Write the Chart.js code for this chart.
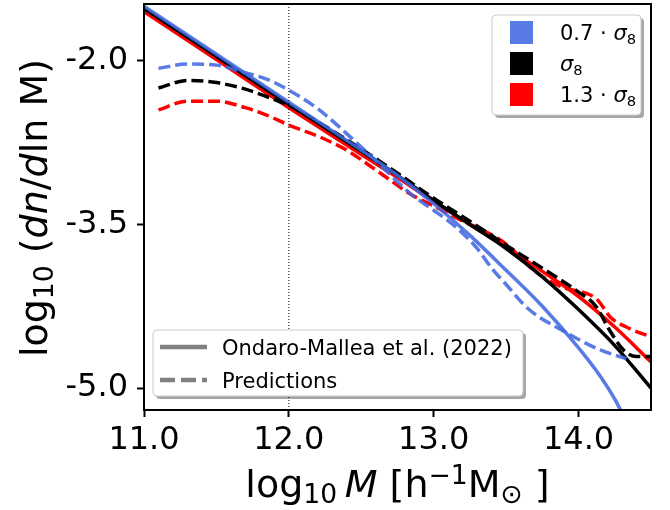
<!DOCTYPE html>
<html>
<head>
<meta charset="utf-8">
<script src="https://cdn.jsdelivr.net/npm/chart.js@4.4.1/dist/chart.umd.min.js"></script>
<style>
  html, body { margin: 0; padding: 0; background: #fff; }
  canvas { display: block; }
</style>
</head>
<body>
<canvas id="hmf" width="670" height="510"></canvas>
<script>
// log10 M [h^-1 Msun] and log10(dn/dlnM)

// Ondaro-Mallea et al. (2022) - solid
const massSolid = [11.0, 11.5, 12.0, 12.5, 12.75, 13.0, 13.25, 13.5, 13.75, 14.0, 14.25, 14.5];
const solidBlack = [-1.52, -1.96, -2.40, -2.83, -3.05, -3.28, -3.50, -3.72, -3.98, -4.28, -4.61, -5.00];
const solidRed = [-1.55, -1.99, -2.43, -2.86, -3.07, -3.29, -3.50, -3.71, -3.93, -4.16, -4.44, -4.76];
const massSolidBlue = [11.0, 11.5, 12.0, 12.5, 12.75, 13.0, 13.25, 13.5, 13.75, 14.0, 14.15, 14.25, 14.35];
const solidBlue = [-1.50, -1.94, -2.38, -2.82, -3.05, -3.31, -3.60, -3.92, -4.25, -4.63, -4.89, -5.10, -5.36];

// Predictions - dashed
const massPredBlue = [11.1, 11.3, 11.5, 11.7, 11.85, 12.0, 12.2, 12.45, 12.65, 12.85, 13.0, 13.15, 13.3, 13.4, 13.5, 13.65, 13.9, 14.15, 14.33];
const predBlue = [-2.07, -2.03, -2.04, -2.11, -2.17, -2.27, -2.44, -2.73, -2.98, -3.23, -3.37, -3.52, -3.72, -3.90, -4.05, -4.27, -4.48, -4.65, -4.73];
const massPredBlack = [11.1, 11.3, 11.5, 11.7, 11.85, 12.0, 12.25, 12.5, 12.75, 13.0, 13.25, 13.5, 13.75, 14.0, 14.12, 14.21, 14.31, 14.4, 14.5];
const predBlack = [-2.25, -2.18, -2.20, -2.26, -2.33, -2.41, -2.60, -2.81, -3.03, -3.26, -3.47, -3.69, -3.90, -4.12, -4.25, -4.46, -4.65, -4.71, -4.71];
const massPredRed = [11.1, 11.3, 11.5, 11.7, 11.85, 12.0, 12.2, 12.4, 12.6, 12.85, 13.0, 13.2, 13.35, 13.5, 13.7, 13.9, 14.05, 14.13, 14.22, 14.33, 14.5];
const predRed = [-2.45, -2.37, -2.37, -2.43, -2.50, -2.59, -2.69, -2.82, -3.00, -3.23, -3.33, -3.47, -3.56, -3.68, -3.93, -4.08, -4.13, -4.19, -4.35, -4.44, -4.53];

// axes
const xTicks = [11, 12, 13, 14];
const yTicks = [-5.0, -3.5, -2.0];
const xRange = [11, 14.5];
const yRange = [-5.2, -1.48];
const massCut = 12.0;

// legends
const sigmaFactors = ['0.7', '', '1.3'];
const lineLabels = ['Ondaro-Mallea et al. (2022)', 'Predictions'];

const BLUE = 'rgba(65,105,225,0.88)';
const RED = '#ff0000';
const BLACK = '#000000';
const FONT = '"DejaVu Sans", sans-serif';
const DASH = [12, 5];

const pts = (xs, ys) => xs.map((x, i) => ({ x: x, y: ys[i] }));

function curve(data, color, dashed) {
    return {
        data: data,
        borderColor: color,
        borderWidth: 3.5,
        borderDash: dashed ? DASH : [],
        pointRadius: 0,
        showLine: true,
        fill: false,
        cubicInterpolationMode: 'monotone'
    };
}

// text with sub / superscripts drawn piece by piece
function setFont(ctx, p, size) {
    const s = p.pos ? size * 0.7 : size;
    ctx.font = (p.it ? 'italic ' : '') + s + 'px ' + FONT;
}
function drawMath(ctx, parts, x, y, size, align) {
    let w = 0;
    parts.forEach(p => { setFont(ctx, p, size); w += ctx.measureText(p.t).width; });
    let cx = align === 'center' ? x - w / 2 : x;
    ctx.textAlign = 'left';
    ctx.textBaseline = 'alphabetic';
    ctx.fillStyle = '#000';
    parts.forEach(p => {
        setFont(ctx, p, size);
        const dy = p.pos === -1 ? size * 0.17 : (p.pos === 1 ? -size * 0.33 : 0);
        ctx.fillText(p.t, cx, y + dy);
        cx += ctx.measureText(p.t).width;
    });
}

function roundRect(ctx, x, y, w, h, r) {
    ctx.beginPath();
    ctx.moveTo(x + r, y);
    ctx.lineTo(x + w - r, y);
    ctx.quadraticCurveTo(x + w, y, x + w, y + r);
    ctx.lineTo(x + w, y + h - r);
    ctx.quadraticCurveTo(x + w, y + h, x + w - r, y + h);
    ctx.lineTo(x + r, y + h);
    ctx.quadraticCurveTo(x, y + h, x, y + h - r);
    ctx.lineTo(x, y + r);
    ctx.quadraticCurveTo(x, y, x + r, y);
    ctx.closePath();
}
function legendBox(ctx, x, y, w, h) {
    ctx.fillStyle = 'rgba(0,0,0,0.35)';
    roundRect(ctx, x + 3, y + 3, w, h, 4);
    ctx.fill();
    ctx.fillStyle = '#ffffff';
    roundRect(ctx, x, y, w, h, 4);
    ctx.fill();
    ctx.strokeStyle = '#cccccc';
    ctx.lineWidth = 1;
    ctx.stroke();
}

const decorations = {
    id: 'decorations',
    afterDraw(chart) {
        const ctx = chart.ctx;
        const a = chart.chartArea;
        ctx.save();

        // full frame
        ctx.strokeStyle = '#000';
        ctx.lineWidth = 2;
        ctx.strokeRect(a.left, a.top, a.right - a.left, a.bottom - a.top);

        // axis titles
        drawMath(ctx, [
            { t: 'log' }, { t: '10', pos: -1 }, { t: '\u2009' }, { t: 'M', it: true },
            { t: ' [h' }, { t: '\u22121', pos: 1 }, { t: 'M' }, { t: '\u2299', pos: -1 }, { t: ' ]' }
        ], (a.left + a.right) / 2, 497, 38, 'center');

        ctx.save();
        ctx.translate(47, 208);
        ctx.rotate(-Math.PI / 2);
        drawMath(ctx, [
            { t: 'log' }, { t: '10', pos: -1 }, { t: ' (' }, { t: 'dn', it: true }, { t: '/' },
            { t: 'd', it: true }, { t: 'ln M)' }
        ], 0, 0, 38, 'center');
        ctx.restore();

        // sigma_8 legend
        const colors = [BLUE, BLACK, RED];
        legendBox(ctx, 492, 15, 149, 100);
        sigmaFactors.forEach((f, i) => {
            const cy = 32 + i * 31;
            ctx.fillStyle = colors[i];
            ctx.fillRect(510, cy - 11, 23, 23);
            const parts = [];
            if (f) parts.push({ t: f + ' \u00b7 ' });
            parts.push({ t: '\u03c3', it: true }, { t: '8', pos: -1 });
            drawMath(ctx, parts, 560, cy + 8, 21, 'left');
        });

        // line style legend
        legendBox(ctx, 153, 330, 370, 66);
        lineLabels.forEach((lab, i) => {
            const cy = 347 + i * 33;
            ctx.strokeStyle = '#808080';
            ctx.lineWidth = 4.5;
            ctx.setLineDash(i === 0 ? [] : [15, 6]);
            ctx.beginPath();
            ctx.moveTo(160, cy);
            ctx.lineTo(207, cy);
            ctx.stroke();
            ctx.setLineDash([]);
            drawMath(ctx, [{ t: lab }], 222, cy + 8, 21, 'left');
        });

        ctx.restore();
    }
};

const ctx = document.getElementById('hmf').getContext('2d');
const hmfChart = new Chart(ctx, {
    type: 'scatter',
    data: {
        datasets: [
            {
                data: [{ x: massCut, y: yRange[0] }, { x: massCut, y: yRange[1] }],
                borderColor: BLACK, borderWidth: 1, borderDash: [1, 2],
                pointRadius: 0, showLine: true, fill: false
            },
            curve(pts(massSolidBlue, solidBlue), BLUE, false),
            curve(pts(massPredBlue, predBlue), BLUE, true),
            curve(pts(massSolid, solidBlack), BLACK, false),
            curve(pts(massPredBlack, predBlack), BLACK, true),
            curve(pts(massSolid, solidRed), RED, false),
            curve(pts(massPredRed, predRed), RED, true)
        ]
    },
    options: {
        responsive: false,
        animation: false,
        devicePixelRatio: 1,
        layout: { padding: { top: 4, right: 19, left: 0, bottom: 0 } },
        plugins: { legend: { display: false }, tooltip: { enabled: false } },
        scales: {
            x: {
                type: 'linear',
                min: xRange[0], max: xRange[1],
                afterBuildTicks: s => { s.ticks = xTicks.map(v => ({ value: v })); },
                afterFit: s => { s.height = 100; s.paddingLeft = 0; s.paddingRight = 0; },
                ticks: {
                    callback: v => v.toFixed(1),
                    font: { family: FONT, size: 32 },
                    color: '#000', padding: 4, maxRotation: 0
                },
                grid: { drawOnChartArea: false, tickLength: 7, tickWidth: 2, tickColor: '#000' },
                border: { display: true, color: '#000', width: 2 }
            },
            y: {
                type: 'linear',
                min: yRange[0], max: yRange[1],
                afterBuildTicks: s => { s.ticks = yTicks.map(v => ({ value: v })); },
                afterFit: s => { s.width = 144; s.paddingTop = 0; s.paddingBottom = 0; },
                ticks: {
                    callback: v => v.toFixed(1),
                    font: { family: FONT, size: 32 },
                    color: '#000', padding: 9
                },
                grid: { drawOnChartArea: false, tickLength: 7, tickWidth: 2, tickColor: '#000' },
                border: { display: true, color: '#000', width: 2 }
            }
        }
    },
    plugins: [decorations]
});
</script>
</body>
</html>
